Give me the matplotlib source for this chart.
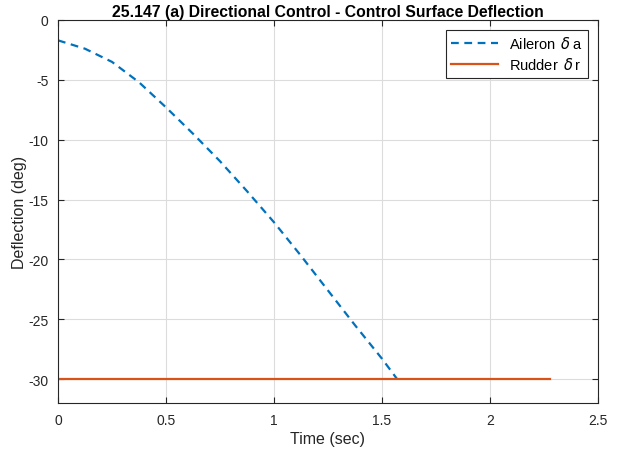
import matplotlib
matplotlib.use('Agg')
import matplotlib.pyplot as plt

plt.rcParams['font.family'] = ['Liberation Sans', 'DejaVu Sans']
plt.rcParams['mathtext.fontset'] = 'dejavusans'
plt.rcParams['axes.unicode_minus'] = False

# aileron deflection vs time
t_ail = [0, 0.125, 0.25, 0.375, 0.5, 0.625, 0.75, 0.875, 1.0, 1.125, 1.25,
         1.375, 1.5, 1.57]
d_ail = [-1.7, -2.4, -3.5, -5.2, -7.3, -9.5, -11.8, -14.3, -16.9, -19.7,
         -22.6, -25.5, -28.3, -30.0]

# rudder held at the stop
t_rud = [0, 2.28]
d_rud = [-30, -30]

x_ticks = [0, 0.5, 1, 1.5, 2, 2.5]
x_labels = ['0', '0.5', '1', '1.5', '2', '2.5']
y_ticks = [-30, -25, -20, -15, -10, -5, 0]

fig = plt.figure(figsize=(6.18, 4.52), dpi=100)
ax = fig.add_axes([58/618, 1 - 404/452, 540/618, 383/452])

ax.plot(t_ail, d_ail, '--', color='#0072BD', lw=1.6, dashes=(3.5, 2.5),
        label=r'Aileron $\,\delta\,$a')
ax.plot(t_rud, d_rud, '-', color='#D95319', lw=1.6,
        label=r'Rudder $\,\delta\,$r')

ax.set_xlim(0, 2.5)
ax.set_ylim(-32, 0)
ax.set_xticks(x_ticks)
ax.set_xticklabels(x_labels)
ax.set_yticks(y_ticks)
ax.grid(True, color='#dcdcdc', lw=0.8)
ax.set_axisbelow(True)
ax.tick_params(direction='in', top=True, right=True, labelsize=10,
               colors='#262626', length=4, pad=7)
for s in ax.spines.values():
    s.set_color('#262626')
    s.set_linewidth(0.8)

ax.set_xlabel('Time (sec)', fontsize=11.5, color='#262626', labelpad=3)
ax.set_ylabel('Deflection (deg)', fontsize=11.5, color='#262626', labelpad=1)
ax.set_title('25.147 (a) Directional Control - Control Surface Deflection',
             fontsize=11.3, fontweight='bold', pad=3)

leg = ax.legend(loc='upper right', fontsize=10.5, fancybox=False,
                edgecolor='#262626', framealpha=1, handlelength=3.2,
                borderaxespad=0.7, borderpad=0.35, labelspacing=0.35)
leg.get_frame().set_linewidth(0.8)

fig.savefig('out.png', dpi=100)
